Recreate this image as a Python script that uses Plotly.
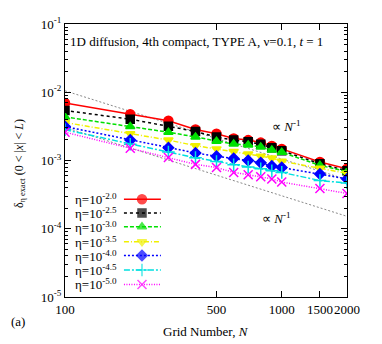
"""
Convergence plot: exact-solution error vs grid number for several eta values
(1D diffusion, 4th-order compact scheme, TYPE A).
"""
import plotly.graph_objects as go

# --- Data ---
grid_n = [100, 200, 300, 400, 500, 600, 700, 800, 900, 1000, 1500, 2000]

err_eta_m20 = [6.94e-3, 4.75e-3, 3.82e-3, 2.84e-3, 2.47e-3, 2.10e-3, 1.99e-3, 1.83e-3, 1.63e-3, 1.48e-3, 9.52e-4, 7.57e-4]
err_eta_m25 = [5.41e-3, 4.03e-3, 3.17e-3, 2.66e-3, 2.21e-3, 1.99e-3, 1.88e-3, 1.73e-3, 1.54e-3, 1.39e-3, 8.98e-4, 7.05e-4]
err_eta_m30 = [4.35e-3, 3.14e-3, 2.60e-3, 2.21e-3, 1.92e-3, 1.74e-3, 1.69e-3, 1.58e-3, 1.43e-3, 1.32e-3, 8.49e-4, 6.87e-4]
err_eta_m35 = [3.61e-3, 2.47e-3, 1.99e-3, 1.65e-3, 1.48e-3, 1.35e-3, 1.24e-3, 1.15e-3, 1.09e-3, 9.77e-4, 7.70e-4, 6.48e-4]
err_eta_m40 = [3.14e-3, 1.99e-3, 1.54e-3, 1.29e-3, 1.15e-3, 1.07e-3, 1.00e-3, 9.28e-4, 8.30e-4, 7.88e-4, 6.33e-4, 5.37e-4]
err_eta_m45 = [2.82e-3, 1.73e-3, 1.33e-3, 1.10e-3, 9.68e-4, 8.63e-4, 8.04e-4, 7.57e-4, 7.05e-4, 6.69e-4, 5.09e-4, 4.67e-4]
err_eta_m50 = [2.60e-3, 1.51e-3, 1.11e-3, 8.78e-4, 7.88e-4, 6.69e-4, 6.19e-4, 5.79e-4, 5.37e-4, 4.83e-4, 3.88e-4, 3.29e-4]

eta_labels = ["-2.0", "-2.5", "-3.0", "-3.5", "-4.0", "-4.5", "-5.0"]

# reference slopes (proportional to N^-1)
ref_n = [100, 2000]
ref_upper = [1.05e-2, 5.25e-4]
ref_lower = [3.05e-3, 1.52e-4]

x_tick_vals = [100, 500, 1000, 1500, 2000]
x_tick_text = ["100", "500", "1000", "1500", "2000"]
y_tick_vals = [1e-5, 1e-4, 1e-3, 1e-2, 1e-1]
y_tick_text = ["10<sup>-5</sup>", "10<sup>-4</sup>", "10<sup>-3</sup>", "10<sup>-2</sup>", "10<sup>-1</sup>"]

# --- Styles ---
FONT = "Liberation Serif, Times New Roman, serif"
series = [
    (err_eta_m20, "#ff0000", "solid", "circle", 9),
    (err_eta_m25, "#000000", "3px,3px", "square", 8),
    (err_eta_m30, "#00e000", "4px,2px", "triangle-up", 8),
    (err_eta_m35, "#f0f000", "5px,2px,1px,2px", "triangle-down", 8),
    (err_eta_m40, "#0000ff", "2px,2px", "diamond", 8),
    (err_eta_m45, "#00e0e0", "6px,2px,2px,2px", "cross-thin-open", 9),
    (err_eta_m50, "#ff00ff", "1px,1.5px", "x-thin-open", 9),
]

fig = go.Figure()

for vals in (ref_upper, ref_lower):
    fig.add_trace(go.Scatter(
        x=ref_n, y=vals, mode="lines", showlegend=False,
        line=dict(color="#888888", width=1, dash="2px,2px"),
    ))

for vals, color, dash, symbol, size in series:
    fig.add_trace(go.Scatter(
        x=grid_n, y=vals, mode="lines+markers", showlegend=False,
        line=dict(color=color, width=1.5, dash=dash),
        marker=dict(symbol=symbol, size=size, color=color,
                    line=dict(color=color, width=1.5)),
    ))

# --- Hand-made legend (text left, sample right, gnuplot style) ---
legend_rows = [0.358, 0.308, 0.257, 0.202, 0.152, 0.099, 0.046]
for row, label, (vals, color, dash, symbol, size) in zip(legend_rows, eta_labels, series):
    fig.add_trace(go.Scatter(
        x=[0.209, 0.273, 0.34], y=[row, row, row], mode="lines+markers",
        xaxis="x2", yaxis="y2", showlegend=False,
        line=dict(color=color, width=1.5, dash=dash),
        marker=dict(symbol=symbol, size=[0, size, 0], color=color,
                    line=dict(color=color, width=1.5)),
    ))
    fig.add_annotation(
        xref="paper", yref="paper", x=0.19, y=row, xanchor="right", yanchor="middle",
        text="η=10<sup>%s</sup>" % label, showarrow=False,
        font=dict(family=FONT, size=13, color="black"),
    )

annotations = [
    dict(x=0.01, y=0.935, xanchor="left", text="1D diffusion, 4th compact, TYPE A, ν=0.1, <i>t</i> = 1"),
    dict(x=0.787, y=0.625, xanchor="center", text="∝ <i>N</i><sup>-1</sup>"),
    dict(x=0.75, y=0.29, xanchor="center", text="∝ <i>N</i><sup>-1</sup>"),
    dict(x=-0.2, y=-0.09, xanchor="left", text="(a)"),
    dict(x=0.5, y=-0.125, xanchor="center", text="Grid Number, <i>N</i>"),
]
for a in annotations:
    fig.add_annotation(xref="paper", yref="paper", yanchor="middle", showarrow=False,
                       font=dict(family=FONT, size=13, color="black"), **a)

fig.add_annotation(
    xref="paper", yref="paper", x=-0.16, y=0.49, xanchor="center", yanchor="middle",
    textangle=-90, showarrow=False,
    text="δ<sub>η exact</sub> (0 &lt; |<i>x</i>| &lt; <i>L</i>)",
    font=dict(family=FONT, size=12, color="black"),
)

y_minor = [m * 10 ** e for e in range(-5, -1) for m in range(2, 10)]

# the page body keeps its default 8px margin, so the figure is 8px smaller
# and the margins are reduced on the top/left to land the plot where intended
fig.update_layout(
    width=374, height=336,
    margin=dict(l=57, r=35, t=7, b=47),
    paper_bgcolor="white", plot_bgcolor="white",
    font=dict(family=FONT, size=13, color="black"),
    xaxis=dict(
        type="log", range=[2, 3.30103],
        tickmode="array", tickvals=x_tick_vals, ticktext=x_tick_text, tickangle=0,
        ticks="inside", ticklen=6, tickcolor="black", ticklabeloverflow="allow",
        showline=True, linecolor="black", linewidth=1, mirror="allticks",
        showgrid=False, zeroline=False,
    ),
    yaxis=dict(
        type="log", range=[-5, -1],
        tickmode="array", tickvals=y_tick_vals, ticktext=y_tick_text,
        ticks="inside", ticklen=6, tickcolor="black", ticklabeloverflow="allow",
        minor=dict(tickmode="array", tickvals=y_minor, ticks="inside", ticklen=3, tickcolor="black"),
        showline=True, linecolor="black", linewidth=1, mirror="allticks",
        showgrid=False, zeroline=False,
    ),
    xaxis2=dict(range=[0, 1], overlaying="x", visible=False, fixedrange=True),
    yaxis2=dict(range=[0, 1], overlaying="y", visible=False, fixedrange=True),
)

fig.write_html("out.html")
